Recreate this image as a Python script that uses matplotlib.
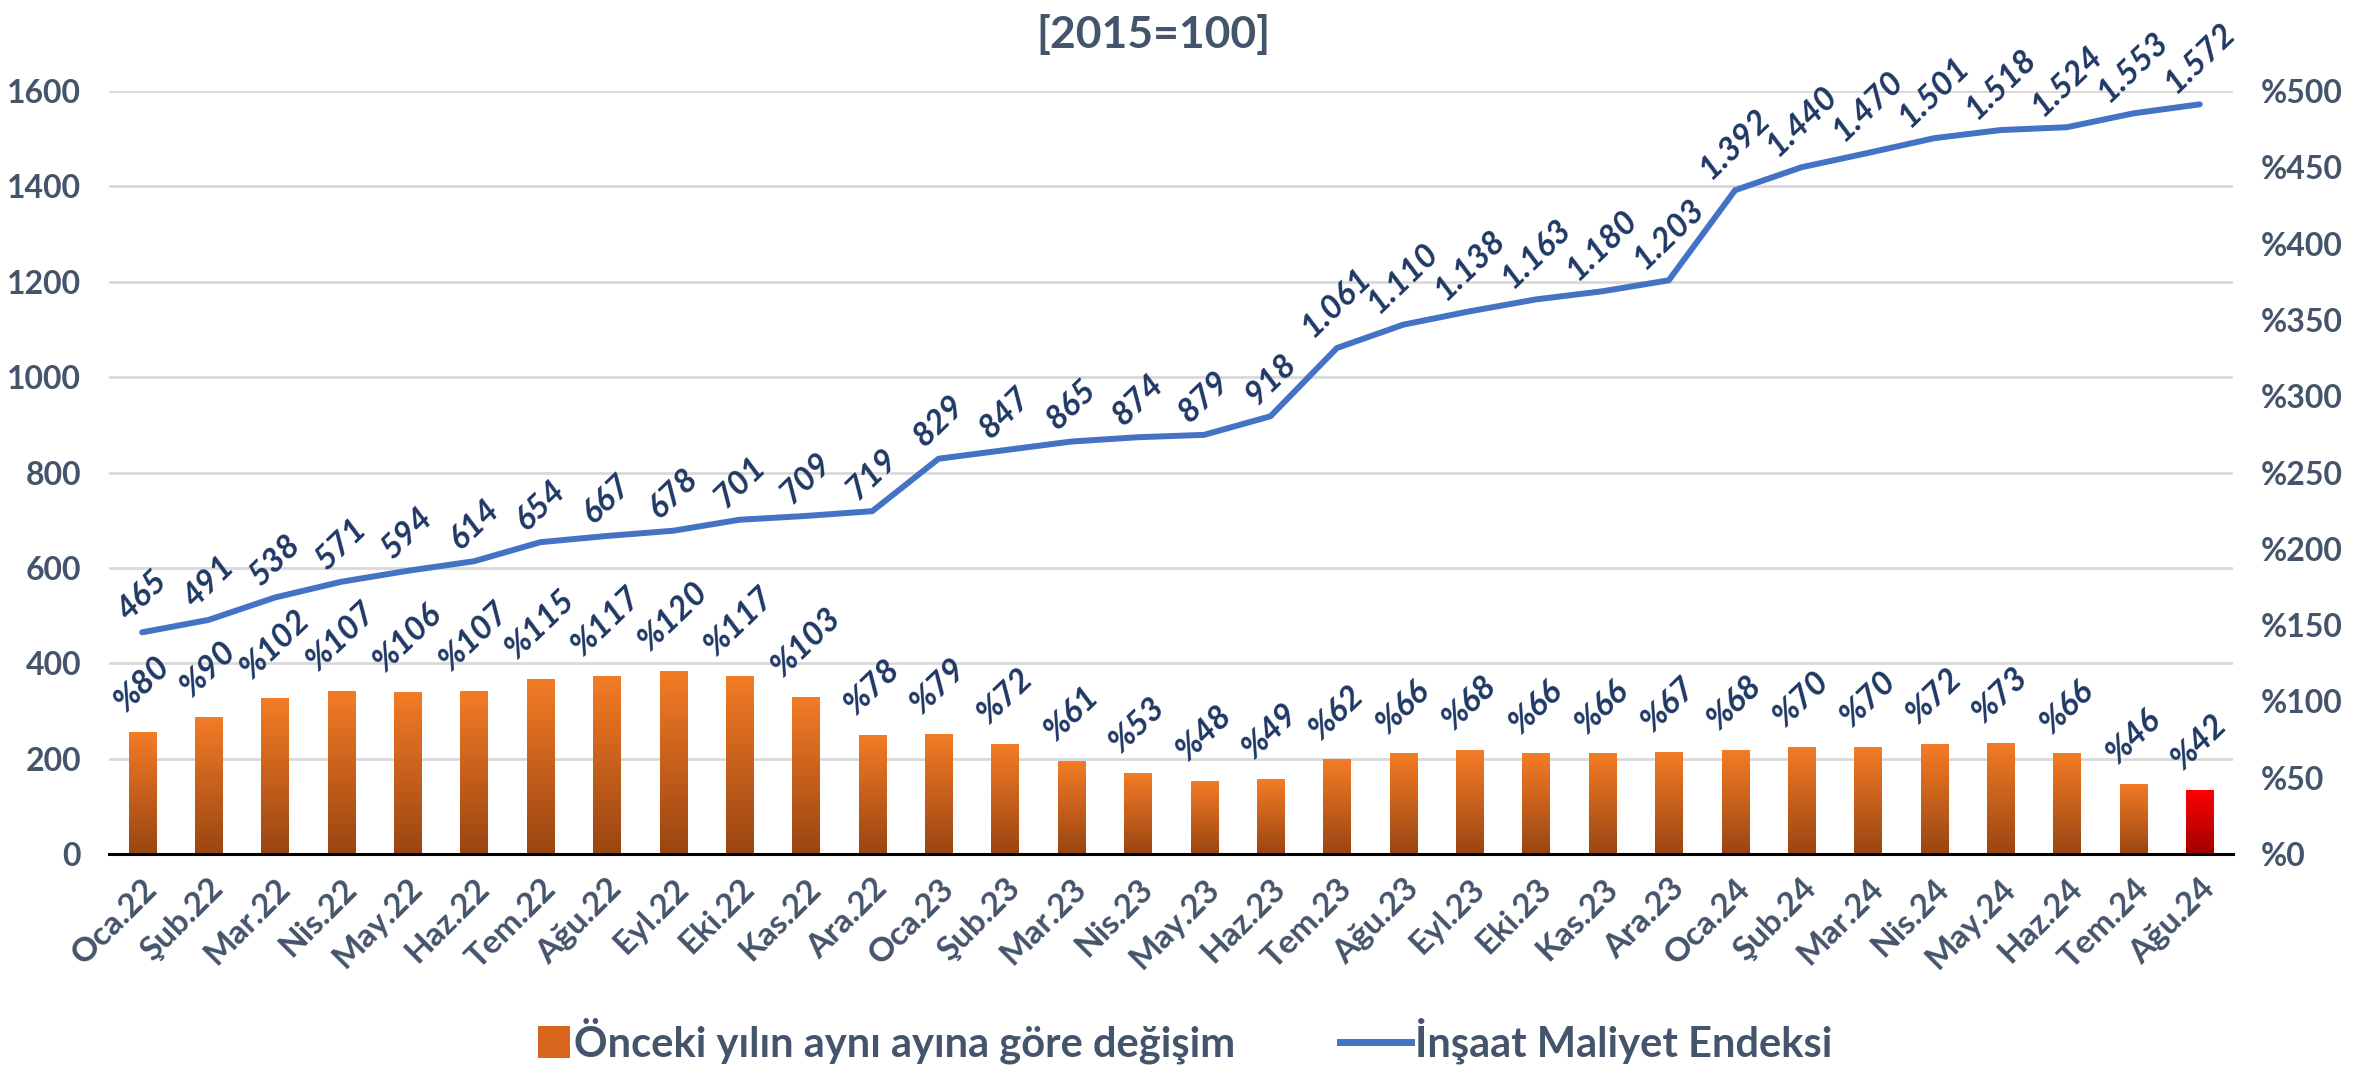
import numpy as np
import matplotlib.pyplot as plt
from matplotlib.patches import Patch, Rectangle
from matplotlib.lines import Line2D
from matplotlib.legend_handler import HandlerPatch
from matplotlib.colors import LinearSegmentedColormap

# data
months = ["Oca.22", "Şub.22", "Mar.22", "Nis.22", "May.22", "Haz.22", "Tem.22", "Ağu.22",
          "Eyl.22", "Eki.22", "Kas.22", "Ara.22", "Oca.23", "Şub.23", "Mar.23", "Nis.23",
          "May.23", "Haz.23", "Tem.23", "Ağu.23", "Eyl.23", "Eki.23", "Kas.23", "Ara.23",
          "Oca.24", "Şub.24", "Mar.24", "Nis.24", "May.24", "Haz.24", "Tem.24", "Ağu.24"]
index_vals = [465, 491, 538, 571, 594, 614, 654, 667, 678, 701, 709, 719, 829, 847, 865, 874,
              879, 918, 1061, 1110, 1138, 1163, 1180, 1203, 1392, 1440, 1470, 1501, 1518, 1524,
              1553, 1572]
yoy_pct = [80, 90, 102, 107, 106, 107, 115, 117, 120, 117, 103, 78, 79, 72, 61, 53,
           48, 49, 62, 66, 68, 66, 66, 67, 68, 70, 70, 72, 73, 66, 46, 42]
left_ticks = [0, 200, 400, 600, 800, 1000, 1200, 1400, 1600]
right_ticks = [0, 50, 100, 150, 200, 250, 300, 350, 400, 450, 500]

# style
axis_col = "#44546A"
label_col = "#1F3864"
line_col = "#4472C4"
font = "Lato"
orange_cmap = LinearSegmentedColormap.from_list("og", ["#9A4512", "#F47C26"])
red_cmap = LinearSegmentedColormap.from_list("rd", ["#A00000", "#FF0000"])

fig = plt.figure(figsize=(23.79, 10.65), dpi=100)
ax = fig.add_axes([0.0458, 0.198, 0.8928, 0.7166])
ax2 = ax.twinx()

x = np.arange(len(months))

# line (left axis)
ax.plot(x, index_vals, color=line_col, lw=4.3, solid_capstyle="round", zorder=3)
for xi, v in zip(x, index_vals):
    txt = f"{v:,}".replace(",", ".")
    ax.annotate(txt, (xi, v), xytext=(0, 5), textcoords="offset points",
                ha="center", va="bottom", rotation=44, fontsize=24, fontweight="bold",
                fontstyle="italic", color=label_col, family=font, annotation_clip=False)

ax.set_xlim(-0.5, len(months) - 0.5)
ax.set_ylim(0, 1600)
ax.set_yticks(left_ticks)
ax.grid(axis="y", color="#D9D9D9", lw=2)
ax.set_axisbelow(True)

# bars (right axis) with vertical gradient
bars = ax2.bar(x, yoy_pct, width=0.41, facecolor="none", edgecolor="none")
grad = np.linspace(0, 1, 256).reshape(-1, 1)
for i, b in enumerate(bars):
    cm = red_cmap if i == len(bars) - 1 else orange_cmap
    im = ax2.imshow(grad, cmap=cm, origin="lower", aspect="auto",
                    extent=(b.get_x(), b.get_x() + b.get_width(), 0, b.get_height()),
                    zorder=2)
    im.set_clip_path(b)
    ax2.annotate(f"%{yoy_pct[i]}", (b.get_x() + b.get_width() / 2, b.get_height()),
                 xytext=(0, 11), textcoords="offset points", ha="center", va="bottom",
                 rotation=44, fontsize=24, fontweight="bold", fontstyle="italic",
                 color=label_col, family=font, annotation_clip=False)
ax2.set_xlim(-0.5, len(months) - 0.5)
ax2.set_ylim(0, 500)
ax2.set_yticks(right_ticks)
ax2.set_yticklabels([f"%{t}" for t in right_ticks])

for a in (ax, ax2):
    for s in a.spines.values():
        s.set_visible(False)
    a.tick_params(length=0, labelsize=23, labelcolor=axis_col)
    for lab in a.get_yticklabels():
        lab.set_fontweight("bold")
        lab.set_family(font)
ax2.spines["bottom"].set_visible(True)
ax2.spines["bottom"].set_linewidth(2.2)
ax2.spines["bottom"].set_color("black")
ax.tick_params(axis="y", pad=20)
ax2.tick_params(axis="y", pad=20)

ax.set_xticks(x)
ax.set_xticklabels(months, rotation=45, ha="right", rotation_mode="anchor",
                   fontsize=24, fontweight="bold", color=axis_col, family=font)
ax.tick_params(axis="x", pad=14)

# title (first line is cut off in the original)
fig.text(0.485, 0.968, "[2015=100]", ha="center", va="center", fontsize=32,
         fontweight="bold", color=axis_col, family=font)

# legend
def square_patch(legend, orig_handle, xdescent, ydescent, width, height, fontsize):
    s = height * 1.1
    return Rectangle((width - s, -ydescent + (height - s) / 2), s, s)

handles = [Patch(facecolor="#D8661C", edgecolor="none"),
           Line2D([0], [0], color=line_col, lw=5)]
leg = fig.legend(handles, ["Önceki yılın aynı ayına göre değişim", "İnşaat Maliyet Endeksi"],
                 loc="center", bbox_to_anchor=(0.49, 0.023), ncol=2, frameon=False,
                 handlelength=1.7, handletextpad=0.1, columnspacing=2.5,
                 handler_map={Patch: HandlerPatch(patch_func=square_patch)},
                 prop={"family": font, "weight": "bold", "size": 30})
for t in leg.get_texts():
    t.set_color(axis_col)

fig.savefig("out.png", dpi=100)
